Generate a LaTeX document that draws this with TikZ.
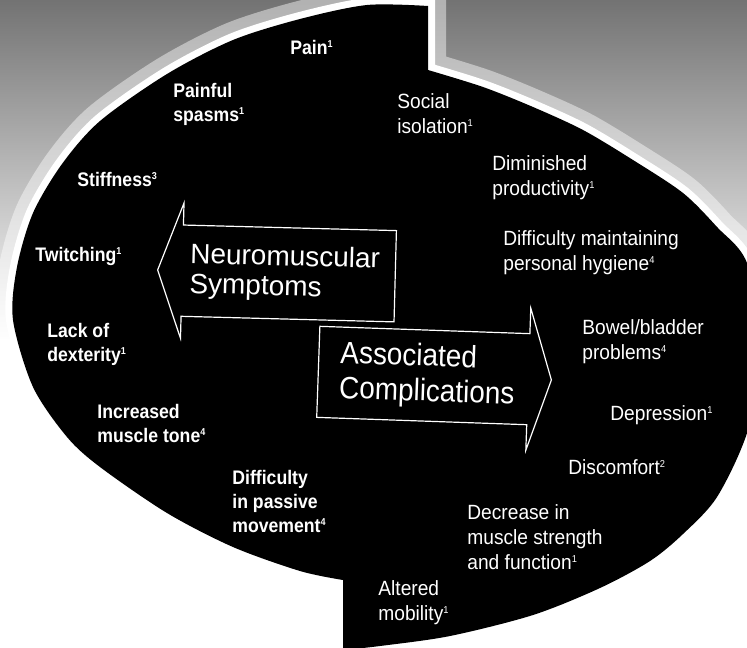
\documentclass[tikz,border=0pt]{standalone}
\usepackage{fontspec}
\setmainfont{Liberation Sans}
\newfontfamily\symptomfont[FakeStretch=0.9]{Liberation Sans}
\newfontfamily\complicationfont[FakeStretch=0.93]{Liberation Sans}
\newfontfamily\neurofont[FakeStretch=1.0]{Liberation Sans}
\newfontfamily\assocfont[FakeStretch=0.9]{Liberation Sans}
\usetikzlibrary{positioning, shapes.arrows}

\newcommand\noteref[1]{\textsuperscript{\fontsize{5}{5}\selectfont#1}}

\tikzset{
    symptom/.style={
        anchor=north west,
        inner sep=0pt,
        align=left,
        text=white,
        font=\symptomfont\bfseries\fontsize{9.8}{12}\selectfont,
    },
    complication/.style={
        anchor=north west,
        inner sep=0pt,
        align=left,
        text=white,
        font=\complicationfont\fontsize{10.3}{12.5}\selectfont,
    },
    heading/.style={
        single arrow,
        anchor=tip,
        draw=white,
        line width=0.6pt,
        text=white,
        align=left,
    },
}

\begin{document}
\begin{tikzpicture}[x=0.5pt, y=-0.5pt]
\useasboundingbox (0,0) rectangle (747,647);

\begin{scope}
\clip (0,0) rectangle (747,647);

% --- background ---
\fill [white] (0,0) rectangle (747,647);
\shade [top color=black!55, bottom color=white] (0,0) rectangle (747,340);

% --- split oval ---
\path [save path=\ovalpath]
    plot [smooth] coordinates {(428,6) (367,5) (300,19) (233,40) (167,74) (100,121)
        (62,164) (33,213) (17,267) (13,320) (33,387) (67,437) (100,467)
        (167,513) (233,547) (300,571) (343,580)}
    -- plot [smooth] coordinates {(343,650) (380,646) (450,636) (533,615) (600,588)
        (650,561) (683,534) (717,497) (747,433) (764,350) (747,263) (717,227)
        (683,193) (633,160) (583,130) (533,107) (483,87) (428,70)}
    -- cycle;
\draw [white, opacity=0.45, line width=18pt, use path=\ovalpath];
\draw [white, line width=7pt, use path=\ovalpath];
\fill [black, use path=\ovalpath];
\end{scope}

% --- neuromuscular symptoms ---
\node [
    heading,
    shape border rotate=180,
    rotate=-1.5,
    inner xsep=7.5pt,
    inner ysep=8.5pt,
    single arrow head extend=11pt,
    single arrow tip angle=140,
    font=\neurofont\fontsize{14}{15}\selectfont,
] (neuromuscular) at (157,270) {Neuromuscular\\Symptoms};

\node [symptom] (pain) at (290,40) {Pain\noteref{1}};
\node [symptom] (painfulspasms) at (173,83) {Painful\\spasms\noteref{1}};
\node [symptom] (stiffness) at (77,172) {Stiffness\noteref{3}};
\node [symptom] (twitching) at (35,247) {Twitching\noteref{1}};
\node [symptom] (lackofdexterity) at (47,323) {Lack of\\dexterity\noteref{1}};
\node [symptom] (muscletone) at (97,404) {Increased\\muscle tone\noteref{4}};
\node [symptom] (passivemovement) at (232,470) {Difficulty\\in passive\\movement\noteref{4}};

% --- associated complications ---
\node [
    heading,
    rotate=-2,
    inner xsep=10.5pt,
    inner ysep=6.5pt,
    single arrow head extend=12.75pt,
    single arrow tip angle=144,
    font=\assocfont\fontsize{15.5}{17.5}\selectfont,
] (associated) at (552,380) {Associated\\Complications};

\node [complication] (socialisolation) at (397,93) {Social\\isolation\noteref{1}};
\node [complication] (productivity) at (492,155) {Diminished\\productivity\noteref{1}};
\node [complication] (hygiene) at (503,230) {Difficulty maintaining\\personal hygiene\noteref{4}};
\node [complication] (bowelbladder) at (582,319) {Bowel/bladder\\problems\noteref{4}};
\node [complication] (depression) at (610,405) {Depression\noteref{1}};
\node [complication] (discomfort) at (568,459) {Discomfort\noteref{2}};
\node [complication] (musclestrength) at (467,504) {Decrease in\\muscle strength\\and function\noteref{1}};
\node [complication] (alteredmobility) at (378,580) {Altered\\mobility\noteref{1}};

\end{tikzpicture}
\end{document}
